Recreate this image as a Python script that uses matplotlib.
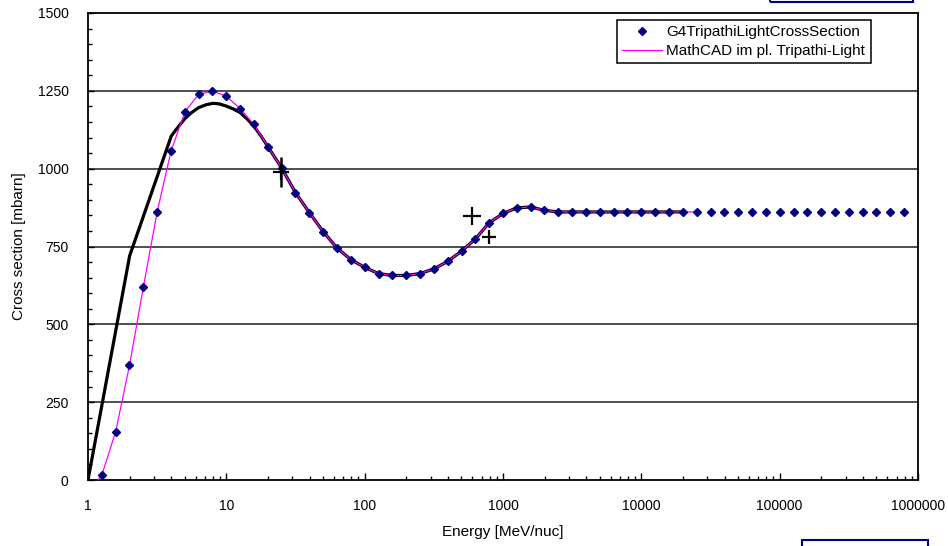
import matplotlib
matplotlib.use('Agg')
import matplotlib.pyplot as plt
from matplotlib.patches import Rectangle
from matplotlib.ticker import FixedLocator, MultipleLocator, NullFormatter

plt.rcParams['font.family'] = ['Liberation Sans', 'DejaVu Sans']

# G4TripathiLightCrossSection points (energy in MeV/nuc, cross section in mbarn)
g4_energy = [1.259, 1.585, 1.995, 2.512, 3.162, 3.981, 5.012, 6.310, 7.943, 10.0,
             12.59, 15.85, 19.95, 25.12, 31.62, 39.81, 50.12, 63.10, 79.43, 100.0,
             125.9, 158.5, 199.5, 251.2, 316.2, 398.1, 501.2, 631.0, 794.3, 1000.0,
             1259, 1585, 1995, 2512, 3162, 3981, 5012, 6310, 7943, 10000,
             12589, 15849, 19953, 25119, 31623, 39811, 50119, 63096, 79433, 100000,
             125893, 158489, 199526, 251189, 316228, 398107, 501187, 630957, 794328]
g4_xs = [16, 155, 368, 619, 861, 1056, 1182, 1239, 1249, 1233,
         1193, 1142, 1071, 1002, 923, 859, 798, 745, 708, 683,
         663, 657, 657, 663, 678, 702, 735, 774, 826, 856,
         874, 877, 866, 861, 861, 861, 861, 861, 861, 861,
         861, 861, 861, 861, 861, 861, 861, 861, 861, 861,
         861, 861, 861, 861, 861, 861, 861, 861, 861]

# MathCAD implementation (thin magenta line)
mathcad_energy = [1.18] + g4_energy[:44]
mathcad_xs = [0] + g4_xs[:44]

# thick black line
black_energy = [1, 2, 4, 4.5, 5, 5.6, 6.3, 7.1, 8, 8.9, 10, 11.2, 12.6, 14.1,
                15.8, 17.8] + g4_energy[12:43]
black_xs = [0, 720, 1105, 1135, 1160, 1180, 1196, 1205, 1210, 1208, 1201, 1192,
            1180, 1160, 1137, 1105] + g4_xs[12:43]

# crosses
cross_energy = [24.9, 601, 794]
cross_xs = [988, 847, 782]

fig = plt.figure(figsize=(9.48, 5.46), dpi=100)
ax = fig.add_axes([88 / 948, 1 - 480 / 546, 830 / 948, 467 / 546])

ax.set_xscale('log')
ax.set_xlim(1, 1000000)
ax.set_ylim(0, 1500)

for v in [250, 500, 750, 1000, 1250]:
    ax.axhline(v, color='#404040', lw=1.3, zorder=1)

ax.plot(black_energy, black_xs, color='black', lw=2.3, zorder=3)
ax.plot(mathcad_energy, mathcad_xs, color='#ff00ff', lw=0.9, zorder=4,
        label='MathCAD im pl. Tripathi-Light')
ax.plot(g4_energy, g4_xs, ls='none', marker='D', ms=4, color='#000080', zorder=5,
        label='G4TripathiLightCrossSection')

ax.errorbar(cross_energy[0], cross_xs[0], yerr=48, fmt='+', ms=12, mew=1.6,
            color='black', elinewidth=1.8, capsize=0, zorder=6)
ax.plot(cross_energy[1], cross_xs[1], '+', ms=13, mew=1.6, color='black', zorder=6)
ax.plot(cross_energy[2], cross_xs[2], '+', ms=10, mew=1.6, color='black', zorder=6)

ax.xaxis.set_major_locator(FixedLocator([1, 10, 100, 1000, 10000, 100000, 1000000]))
ax.set_xticklabels(['1', '10', '100', '1000', '10000', '100000', '1000000'])
minors = [m * 10 ** d for d in range(6) for m in range(2, 10)]
ax.xaxis.set_minor_locator(FixedLocator(minors))
ax.xaxis.set_minor_formatter(NullFormatter())
ax.yaxis.set_major_locator(MultipleLocator(250))
ax.yaxis.set_minor_locator(MultipleLocator(50))

ax.tick_params(axis='both', which='both', direction='in', labelsize=10, color='black')
ax.tick_params(axis='x', which='major', length=5, width=1, pad=14)
ax.tick_params(axis='x', which='minor', length=3, width=1)
ax.tick_params(axis='y', which='major', length=4, width=1, pad=14)
ax.tick_params(axis='y', which='minor', length=3, width=1)

for s in ax.spines.values():
    s.set_linewidth(1.3)
    s.set_color('black')

ax.set_xlabel('Energy [MeV/nuc]', fontsize=11, labelpad=8)
ax.set_ylabel('Cross section [mbarn]', fontsize=11, labelpad=8)

handles, labels = ax.get_legend_handles_labels()
leg = ax.legend(handles[::-1], labels[::-1], loc='upper right',
                bbox_to_anchor=(0.943, 0.985), fontsize=11, fancybox=False,
                edgecolor='black', framealpha=1, borderpad=0.35,
                handlelength=2.6, handletextpad=0.3, labelspacing=0.3,
                borderaxespad=0)
leg.get_frame().set_linewidth(1.1)

# stray boxes at the picture edges
fig.patches.append(Rectangle((770 / 948, 1 - 2 / 546), 143 / 948, 0.05,
                             transform=fig.transFigure, fill=False,
                             edgecolor='#000080', lw=1.5))
fig.patches.append(Rectangle((802 / 948, -0.05), 126 / 948, 0.05 + 6 / 546,
                             transform=fig.transFigure, fill=False,
                             edgecolor='#000080', lw=1.5))

fig.savefig('out.png', dpi=100)
